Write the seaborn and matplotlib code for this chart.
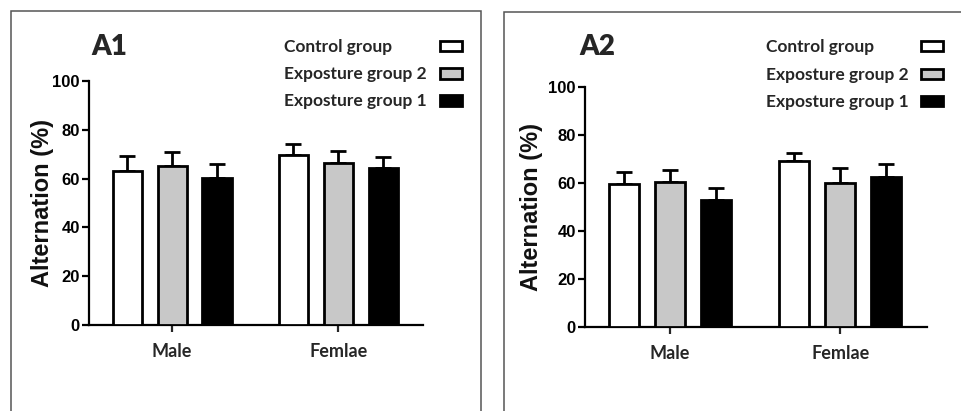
import matplotlib
matplotlib.use("Agg")
import matplotlib.pyplot as plt
from matplotlib.patches import Rectangle
import numpy as np
import pandas as pd
import seaborn as sns

# Categories and groups
sexes = ["Male", "Femlae"]
groups = ["Control group", "Exposture group 2", "Exposture group 1"]
group_colors = ["#ffffff", "#c8c8c8", "#000000"]

# Panel A1: mean alternation (%) and SEM, one entry per group
a1_male_mean = [63.0, 65.2, 60.2]
a1_male_sem = [6.2, 5.5, 5.6]
a1_female_mean = [69.8, 66.5, 64.4]
a1_female_sem = [4.2, 5.0, 4.5]

# Panel A2
a2_male_mean = [59.4, 60.5, 53.0]
a2_male_sem = [5.1, 5.1, 5.1]
a2_female_mean = [69.2, 60.2, 62.3]
a2_female_sem = [3.5, 6.0, 5.6]

yticks = [0, 20, 40, 60, 80, 100]

sns.set_theme(style="ticks")
plt.rcParams["font.family"] = ["Liberation Sans", "DejaVu Sans"]
HUMANIST = ["Lato", "DejaVu Sans"]

W, H = 961, 411
fig = plt.figure(figsize=(W / 100, H / 100), dpi=100)


def frac(x0, y0, x1, y1):
    return [x0 / W, 1 - y1 / H, (x1 - x0) / W, (y1 - y0) / H]


def key(text_x, swatch_x, rows_y):
    """Group key: left-aligned labels with a column of swatches on the right."""
    for g, c, y in zip(groups, group_colors, rows_y):
        fig.text(text_x / W, 1 - y / H, g, family=HUMANIST, weight="bold",
                 fontsize=12.5, ha="left", va="center")
        fig.add_artist(Rectangle((swatch_x / W, 1 - (y + 4.5) / H), 22 / W,
                                 10.5 / H, transform=fig.transFigure,
                                 facecolor=c, edgecolor="black",
                                 linewidth=2.0))


def panel(rect, title, male_mean, male_sem, female_mean, female_sem,
          title_x, ylabel_x):
    ax = fig.add_axes(rect)
    rows = []
    for sex, means in zip(sexes, [male_mean, female_mean]):
        for g, m in zip(groups, means):
            rows.append({"sex": sex, "group": g, "value": m})
    df = pd.DataFrame(rows)
    sns.barplot(data=df, x="sex", y="value", hue="group", order=sexes,
                hue_order=groups, palette=group_colors, edgecolor="black",
                linewidth=2.0, width=0.81, gap=0.35, errorbar=None,
                legend=False, saturation=1, ax=ax, zorder=3)
    sems = {0: male_sem, 1: female_sem}
    bar_containers = list(ax.containers)
    for j, cont in enumerate(bar_containers):
        for i, bar in enumerate(cont.patches):
            xc = bar.get_x() + bar.get_width() / 2
            h = bar.get_height()
            ax.errorbar(xc, h, yerr=[[0], [sems[i][j]]], fmt="none",
                        ecolor="black", elinewidth=2.0, capsize=5.5,
                        capthick=2.0, zorder=2)
    ax.set_ylim(0, 100)
    ax.set_xlim(-0.5, 1.51)
    ax.set_yticks(yticks)
    ax.set_xlabel("")
    ax.set_ylabel("Alternation (%)", fontsize=17, fontweight="bold",
                  color="#111111")
    ax.yaxis.label.set_va("center")
    ax.yaxis.set_label_coords(ylabel_x, 0.5)
    for s in ["top", "right"]:
        ax.spines[s].set_visible(False)
    for s in ["left", "bottom"]:
        ax.spines[s].set_linewidth(1.6)
        ax.spines[s].set_color("black")
    ax.tick_params(axis="y", length=5, width=1.6, pad=1.5, labelsize=12,
                   colors="black")
    ax.tick_params(axis="x", length=5, width=1.6, pad=8)
    for lab in ax.get_yticklabels():
        lab.set_fontweight("bold")
    for lab in ax.get_xticklabels():
        lab.set_fontfamily(HUMANIST)
        lab.set_fontweight("bold")
        lab.set_fontsize(13)
    fig.text(title_x / W, 1 - 47 / H, title, fontsize=20, fontweight="heavy",
             family=HUMANIST, va="center", ha="left")
    return ax


panel(frac(89, 81, 423, 325), "A1", a1_male_mean, a1_male_sem,
      a1_female_mean, a1_female_sem, 91, -0.14)
key(284, 439.5, [47, 74, 101])

panel(frac(585, 87, 927, 327), "A2", a2_male_mean, a2_male_sem,
      a2_female_mean, a2_female_sem, 579, -0.155)
key(766, 920.5, [47, 75, 102])

# Panel frames
for x0, y0, x1, y1 in [(11, 11, 481, 430), (504, 12, 980, 430)]:
    fig.add_artist(Rectangle((x0 / W, 1 - y1 / H), (x1 - x0) / W,
                             (y1 - y0) / H, transform=fig.transFigure,
                             fill=False, edgecolor="#555555", linewidth=1.1))

fig.savefig("out.png", dpi=100)
